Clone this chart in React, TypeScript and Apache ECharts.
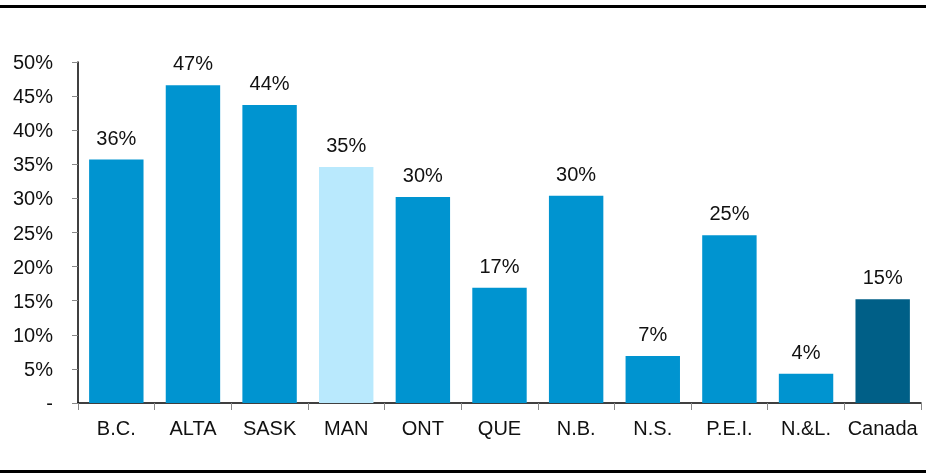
import React, { useEffect, useRef } from "react";
import * as echarts from "echarts";

const categories = ["B.C.", "ALTA", "SASK", "MAN", "ONT", "QUE", "N.B.", "N.S.", "P.E.I.", "N.&L.", "Canada"];
const values = [35.7, 46.6, 43.7, 34.6, 30.2, 16.9, 30.4, 6.9, 24.6, 4.3, 15.2];
const barColors = ["#0094D0", "#0094D0", "#0094D0", "#B9E9FD", "#0094D0", "#0094D0", "#0094D0", "#0094D0", "#0094D0", "#0094D0", "#005F87"];
const yTicks = [0, 5, 10, 15, 20, 25, 30, 35, 40, 45, 50];

export default function App() {
  const ref = useRef<HTMLDivElement>(null);
  useEffect(() => {
    if (!ref.current) return;
    const chart = echarts.init(ref.current, null, { renderer: "svg" });
    const font = "'Liberation Sans', Arial, sans-serif";
    chart.setOption({
      animation: false,
      grid: { left: 78, right: 5, top: 62, bottom: 70, containLabel: false },
      xAxis: {
        type: "category",
        data: categories,
        axisLine: { lineStyle: { color: "#000", width: 1.5 } },
        axisTick: { show: true, length: 7, lineStyle: { color: "#888" }, alignWithLabel: false },
        axisLabel: { color: "#111", fontSize: 20, fontFamily: font, margin: 15, interval: 0 },
      },
      yAxis: {
        type: "value",
        min: yTicks[0],
        max: yTicks[yTicks.length - 1],
        interval: 5,
        splitLine: { show: false },
        axisLine: { show: true, lineStyle: { color: "#000", width: 1.5 } },
        axisTick: { show: true, length: 6, lineStyle: { color: "#888" } },
        axisLabel: {
          color: "#111",
          fontSize: 20,
          fontFamily: font,
          margin: 25,
          formatter: (v: number) => (v === 0 ? "-" : v + "%"),
        },
      },
      series: [
        {
          type: "bar",
          data: values.map((v, i) => ({ value: v, itemStyle: { color: barColors[i] } })),
          barCategoryGap: "29%",
          label: {
            show: true,
            position: "top",
            distance: 12,
            color: "#111",
            fontSize: 20,
            fontFamily: font,
            formatter: (p: any) => Math.round(p.value) + "%",
          },
        },
      ],
      graphic: [
        { type: "rect", shape: { x: 0, y: 5, width: 926, height: 3 }, style: { fill: "#000" } },
        { type: "rect", shape: { x: 0, y: 470, width: 926, height: 3 }, style: { fill: "#000" } },
      ],
    });
    return () => chart.dispose();
  }, []);
  return <div ref={ref} style={{ position: "fixed", left: 0, top: 0, width: 926, height: 473 }} />;
}
